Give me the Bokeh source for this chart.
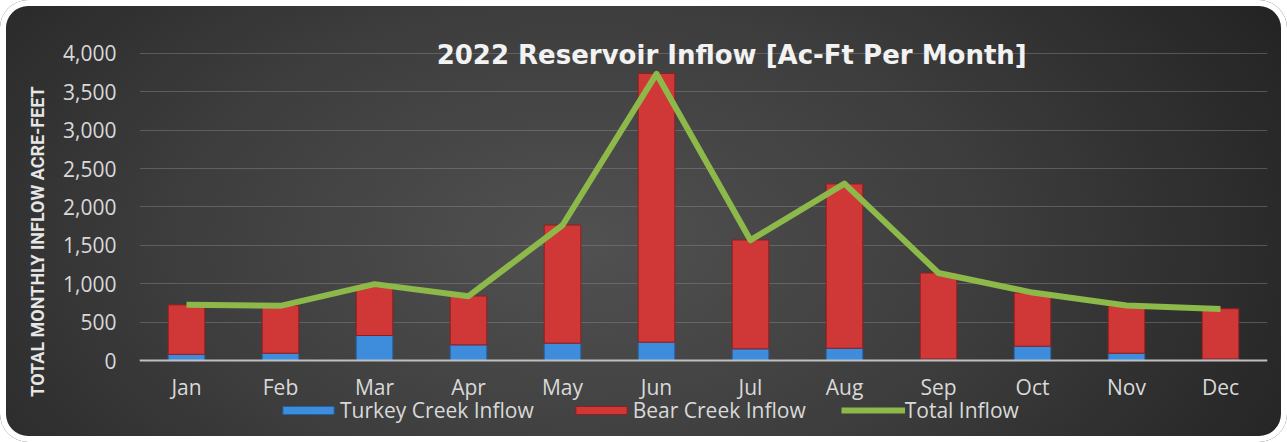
from bokeh.plotting import figure
from bokeh.models import Range1d, Label, Legend, LegendItem, NumeralTickFormatter, FixedTicker
from bokeh.embed import file_html
from bokeh.resources import INLINE

months = ["Jan", "Feb", "Mar", "Apr", "May", "Jun", "Jul", "Aug", "Sep", "Oct", "Nov", "Dec"]
turkey = [80, 95, 326, 204, 226, 239, 152, 160, 20, 186, 95, 20]
bear = [645, 620, 664, 636, 1539, 3501, 1418, 2140, 1120, 694, 615, 655]
total = [725, 712, 995, 838, 1762, 3735, 1568, 2305, 1140, 885, 718, 672]
y_ticks = [0, 500, 1000, 1500, 2000, 2500, 3000, 3500, 4000]

TXT = "#d9d9d9"
FONT = "Open Sans"

# frame: page y 40 (top) .. 442 (bottom); value 0 sits at y=360 and 4000 at y=53
p = figure(x_range=months, y_range=Range1d(-1068, 4169), width=1287, height=442,
           output_backend="svg", toolbar_location=None, tools="",
           min_border_left=139, min_border_right=20, min_border_top=40, min_border_bottom=0)
p.styles = {
    "border-radius": "28px",
    "background": "radial-gradient(ellipse 70% 120% at 45% 55%, #515151 0%, #3d3d3d 45%, #1d1d1d 100%)",
    "box-shadow": "inset 0 0 0 6px #ffffff",
}
p.background_fill_color = None
p.border_fill_color = None
p.outline_line_color = None

src = dict(month=months, turkey=turkey, bear=bear)
bars = p.vbar_stack(["turkey", "bear"], x="month", width=0.39, source=src,
                    fill_color=["#3d8ddc", "#d03838"], line_color=["#235f9e", "#8f1f1f"], line_width=1)
ln = p.line(months, total, line_color="#8db84a", line_width=6, line_join="round")

# axes
p.yaxis.ticker = FixedTicker(ticks=y_ticks)
p.yaxis.formatter = NumeralTickFormatter(format="0,0")
p.yaxis.axis_line_color = None
p.yaxis.major_tick_line_color = None
p.yaxis.minor_tick_line_color = None
p.yaxis.major_label_standoff = 17
p.yaxis.axis_label = "TOTAL MONTHLY INFLOW ACRE-FEET"
p.yaxis.axis_label_text_font = "Roboto"
p.yaxis.axis_label_text_font_style = "bold"
p.yaxis.axis_label_text_font_size = "18px"
p.yaxis.axis_label_text_color = "#e6e6e6"
p.yaxis.axis_label_standoff = 12

p.xaxis.fixed_location = 0
p.xaxis.axis_line_color = "#bfbfbf"
p.xaxis.axis_line_width = 2
p.xaxis.major_tick_line_color = None
p.xaxis.major_label_standoff = 6
for ax in (p.xaxis, p.yaxis):
    ax.major_label_text_color = TXT
    ax.major_label_text_font = FONT
    ax.major_label_text_font_size = "21px"
p.xgrid.grid_line_color = None
p.ygrid.grid_line_color = "#8a8a8a"
p.ygrid.grid_line_alpha = 0.45

# chart title inside plot area
p.add_layout(Label(x=6.3, y=3974, text="2022 Reservoir Inflow [Ac-Ft Per Month]",
                   text_font="DejaVu Sans", text_font_style="bold", text_font_size="26px",
                   text_color="#f2f2f2", text_align="center", text_baseline="middle"))

# legend inside the lower part of the frame
legend = Legend(items=[LegendItem(label="Turkey Creek Inflow", renderers=[bars[0]]),
                       LegendItem(label="Bear Creek Inflow", renderers=[bars[1]]),
                       LegendItem(label="Total Inflow", renderers=[ln])],
                location=(137, 18), orientation="horizontal", padding=0, margin=0, spacing=35,
                glyph_width=64, glyph_height=10, label_standoff=0,
                label_text_font=FONT, label_text_font_size="21px", label_text_color=TXT,
                background_fill_alpha=0, border_line_color=None)
p.add_layout(legend)

open("out.html", "w").write(file_html(p, INLINE))
